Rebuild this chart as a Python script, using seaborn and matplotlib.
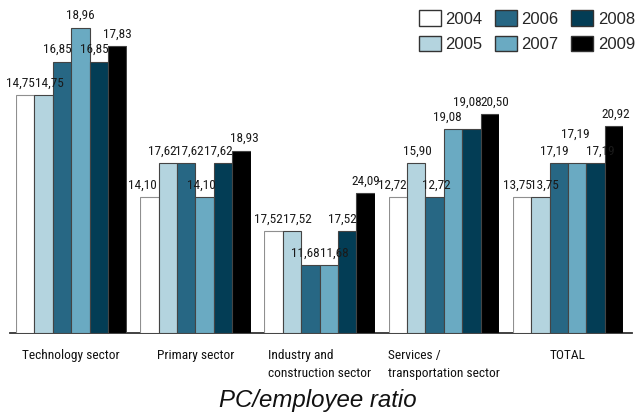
import matplotlib
matplotlib.use("Agg")
import matplotlib.pyplot as plt
import matplotlib.font_manager as fm
import seaborn as sns
import pandas as pd

# Data
years = ["2004", "2005", "2006", "2007", "2008", "2009"]
sectors = [
    "Technology sector",
    "Primary sector",
    "Industry and\nconstruction sector",
    "Services /\ntransportation sector",
    "TOTAL",
]
technology = [14.75, 14.75, 16.85, 18.96, 16.85, 17.83]
primary = [14.10, 17.62, 17.62, 14.10, 17.62, 18.93]
industry = [17.52, 17.52, 11.68, 11.68, 17.52, 24.09]
services = [12.72, 15.90, 12.72, 19.08, 19.08, 20.50]
total = [13.75, 13.75, 17.19, 17.19, 17.19, 20.92]
series = [technology, primary, industry, services, total]

# Styling
colors = ["#ffffff", "#b4d4df", "#276784", "#6aaac2", "#033d55", "#000000"]
palette = dict(zip(years, colors))
panel_ymax = [20.69, 34.64, 57.4, 31.25, 33.7]
# horizontal nudges (px) of the value labels, per panel
label_dx = [
    [-4.5, 5.5, -5, 0, -4.5, 0],
    [-7, -5.5, 3.5, -3, -4.5, 3],
    [-5, 5, -5, 5, -4.5, 0],
    [-5, 1.5, 2, -5.5, -4, 5],
    [-4.5, 4.5, -5, -2, 5, 2],
]
raised_labels = {(3, 4): 11, (4, 3): 12}

sns.set_style("white")
plt.rcParams["font.family"] = ["Liberation Sans", "DejaVu Sans"]

# pick a narrow sans face for the value and category labels
narrow = {"family": ["Liberation Sans", "DejaVu Sans"]}
_names = {f.name for f in fm.fontManager.ttflist}
for cand in ["Liberation Sans Narrow", "Arial Narrow", "Roboto Condensed",
             "Open Sans Condensed", "Noto Sans Condensed"]:
    if cand in _names:
        narrow = {"family": [cand, "DejaVu Sans"]}
        break
else:
    for f in fm.fontManager.ttflist:
        if f.stretch == "condensed" and f.weight in (400, "normal") and f.style == "normal":
            narrow = {"family": [f.name, "DejaVu Sans"], "stretch": "condensed"}
            break

W, H = 635, 417
fig = plt.figure(figsize=(W / 100, H / 100), dpi=100)

base_px = 332.5
bottom = (H - base_px) / H
height = base_px / H

# Shared baseline
ax_base = fig.add_axes([10 / W, bottom, 622 / W, height], zorder=0)
ax_base.set_xticks([])
ax_base.set_yticks([])
for side in ["top", "left", "right"]:
    ax_base.spines[side].set_visible(False)
ax_base.spines["bottom"].set_color("#333333")
ax_base.spines["bottom"].set_linewidth(1.3)
ax_base.patch.set_alpha(0)

group_w = 110.5
step = 124.2
start = 16.0

for i, (name, vals) in enumerate(zip(sectors, series)):
    ax = fig.add_axes([(start + i * step) / W, bottom, group_w / W, height], zorder=1)
    ax.patch.set_alpha(0)
    df = pd.DataFrame({"year": years, "value": vals})
    sns.barplot(data=df, x="year", y="value", hue="year", palette=palette,
                saturation=1, width=1.0, edgecolor="#444444", linewidth=0.8,
                legend=False, ax=ax)
    for p in ax.patches:
        if p.get_facecolor()[:3] == (1.0, 1.0, 1.0):
            p.set_edgecolor("#8f8f8f")
    ax.set_xlim(-0.5, 5.5)
    ax.set_ylim(0, panel_ymax[i])
    for j, cont in enumerate(ax.containers):
        lab = [f"{v:.2f}".replace(".", ",") for v in cont.datavalues]
        texts = ax.bar_label(cont, labels=lab, padding=4 + raised_labels.get((i, j), 0),
                             fontsize=9.5, color="#1a1a1a", **narrow)
        for t in texts:
            x0, y0 = t.xyann
            t.xyann = (x0 + label_dx[i][j] * 0.72, y0)
    ax.set_xticks([])
    ax.set_yticks([])
    ax.set_ylabel("")
    ax.set_xlabel(name, fontsize=9.6, color="#111111", multialignment="left",
                  labelpad=12, linespacing=1.5, **narrow)
    sns.despine(ax=ax, left=True, bottom=True)

# Legend
handles = [plt.Rectangle((0, 0), 1, 1, facecolor=c, edgecolor="#333333", linewidth=1.0)
           for c in colors]
fig.legend(handles, years, loc="upper right", bbox_to_anchor=(635 / W, 1 - 10 / H),
           ncol=3, frameon=False, fontsize=12, handlelength=1.32, handleheight=1.08,
           handletextpad=0.3, columnspacing=0.72, labelspacing=0.54,
           borderaxespad=0, borderpad=0)

fig.text(0.5, (H - 400) / H, "PC/employee ratio", ha="center", va="center",
         fontsize=17.3, style="italic", color="#111111")

fig.savefig("out.png", dpi=100)
